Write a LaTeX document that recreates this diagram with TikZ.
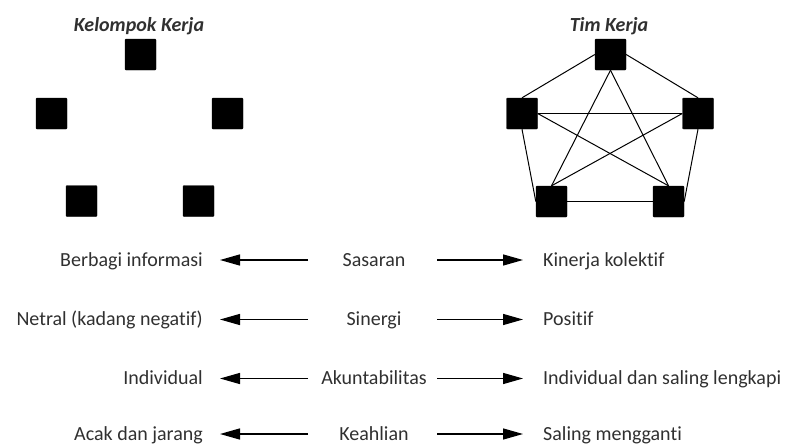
\documentclass[tikz,border=0pt]{standalone}
\usepackage{fontspec}
\setmainfont{Carlito}[Ligatures=NoCommon]
\usetikzlibrary{arrows.meta}
\definecolor{ink}{HTML}{303030}
\tikzset{
  member/.style={
    draw=black, fill=black, rounded corners=1pt,
    minimum size=31pt, inner sep=0pt
  },
  heading/.style={
    font=\fontsize{20}{24}\selectfont\bfseries\itshape,
    text=ink, inner sep=0pt
  },
  aspect/.style={
    font=\fontsize{20}{24}\selectfont, text=ink, inner sep=0pt
  },
  link/.style={line width=1pt, draw=black},
  pointer/.style={-{Triangle[length=20pt,width=11pt]}, line width=1.4pt, draw=black}
}

\begin{document}
\begin{tikzpicture}[x=1pt,y=-1pt]
  \useasboundingbox (0,0) rectangle (792,445);

  % kelompok kerja
  \node[heading, anchor=base] (kktitle) at (139,31) {Kelompok Kerja};
  \node[member] (kk1) at (140.5,54.5) {};
  \node[member] (kk2) at (51.5,113.5) {};
  \node[member] (kk3) at (227.5,113.5) {};
  \node[member] (kk4) at (81.5,201) {};
  \node[member] (kk5) at (198.5,201) {};

  % tim kerja
  \node[heading, anchor=base] (tktitle) at (609,31) {Tim Kerja};
  \node[member] (tk1) at (610.5,54.5) {};
  \node[member] (tk2) at (522,113.5) {};
  \node[member] (tk3) at (698,113.5) {};
  \node[member] (tk4) at (551.5,201.5) {};
  \node[member] (tk5) at (668.5,201.5) {};

  \draw[link] (tk1.west) -- (tk2.north);
  \draw[link] (tk1.east) -- (tk3.north);
  \draw[link] (tk2.east) -- (tk3.west);
  \draw[link] (tk2.east) -- (tk5.north);
  \draw[link] (tk3.west) -- (tk4.north);
  \draw[link] (tk1.south) -- (tk4.north);
  \draw[link] (tk1.south) -- (tk5.north);
  \draw[link] (tk2.south) -- (tk4.west);
  \draw[link] (tk3.south) -- (tk5.east);
  \draw[link] (tk4.east) -- (tk5.west);

  % perbandingan
  \foreach \i/\yy/\lt/\mt/\rt in {
      1/260/{Berbagi informasi}/{Sasaran}/{Kinerja kolektif},
      2/319.5/{Netral (kadang negatif)}/{Sinergi}/{Positif},
      3/378.5/{Individual}/{Akuntabilitas}/{Individual dan saling lengkapi},
      4/434/{Acak dan jarang}/{Keahlian}/{Saling mengganti}} {
    \node[aspect, anchor=base east] (L\i) at (203,\yy+6) {\lt};
    \node[aspect, anchor=base] (M\i) at (374,\yy+6) {\mt};
    \node[aspect, anchor=base west] (R\i) at (543,\yy+6) {\rt};
    \coordinate (ls\i) at (308,\yy);
    \coordinate (rs\i) at (437,\yy);
    \draw[pointer, shorten >=17pt] (ls\i) -- (ls\i -| L\i.east);
    \draw[pointer, shorten >=20pt] (rs\i) -- (rs\i -| R\i.west);
  }
\end{tikzpicture}
\end{document}
